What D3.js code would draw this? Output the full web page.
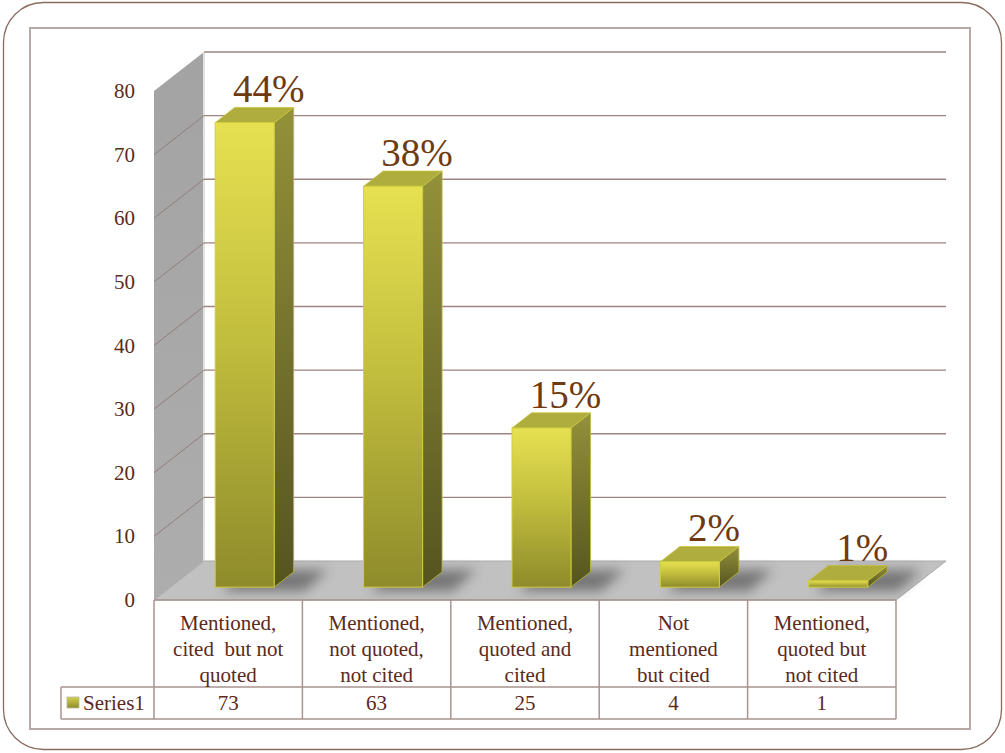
<!DOCTYPE html>
<html>
<head>
<meta charset="utf-8">
<script src="https://cdn.jsdelivr.net/npm/d3@7"></script>
</head>
<body style="margin:0">
<svg id="fig" width="1005" height="753"></svg>
<script>
// Citation categories (one table column each), with label lines
const categories = ["c1", "c2", "c3", "c4", "c5"];
const categoryLines = [
  ["Mentioned,", "cited\u00a0 but not", "quoted"],
  ["Mentioned,", "not quoted,", "not cited"],
  ["Mentioned,", "quoted and", "cited"],
  ["Not", "mentioned", "but cited"],
  ["Mentioned,", "quoted but", "not cited"]
];
const seriesName = "Series1";
const seriesValues = [73, 63, 25, 4, 1];
const yTicks = [0, 10, 20, 30, 40, 50, 60, 70, 80];

const total = d3.sum(seriesValues);
const pctLabels = seriesValues.map(v => Math.round(v / total * 100) + "%");

const FONT = "Liberation Serif";
const TEXT = "#5b2a1c";
const svg = d3.select("#fig");
const defs = svg.append("defs");

// Front plane geometry of the 3D box
const x = d3.scaleBand().domain(categories).range([154, 896]);
const y = d3.scaleLinear().domain([0, 80]).range([600, 91]);
const DX = 50, DY = -39;          // depth of the box (floor/wall)
const f0 = 0.33, fd = 0.39;       // bars: front-plane depth fraction and thickness
const barW = 59;

// Gradients
function vGrad(id, stops) {
  const g = defs.append("linearGradient").attr("id", id)
    .attr("x1", 0).attr("y1", 0).attr("x2", 0).attr("y2", 1);
  stops.forEach(([o, c]) => g.append("stop").attr("offset", o).attr("stop-color", c));
}
vGrad("gFront", [[0, "#e6e151"], [0.45, "#c3bf3e"], [1, "#8e8b2b"]]);
vGrad("gSide", [[0, "#939139"], [1, "#555420"]]);
vGrad("gWall", [[0, "#a3a3a3"], [1, "#adadad"]]);
vGrad("gLegend", [[0, "#d4d04a"], [1, "#8f8c2c"]]);

const blur = defs.append("filter").attr("id", "shadowBlur")
  .attr("x", "-50%").attr("y", "-50%").attr("width", "200%").attr("height", "200%");
blur.append("feGaussianBlur").attr("stdDeviation", 6);

// Outer rounded frame and inner chart area border
svg.append("rect").attr("x", 3.5).attr("y", 2.5).attr("width", 998).attr("height", 747)
  .attr("rx", 40).attr("ry", 40).attr("fill", "#fff")
  .attr("stroke", "#8a6b5e").attr("stroke-width", 1.3);
svg.append("rect").attr("x", 30).attr("y", 28).attr("width", 940).attr("height", 701)
  .attr("fill", "none").attr("stroke", "#b7a9a6").attr("stroke-width", 2);

const x0 = x.range()[0], x1 = x.range()[1];
const yTop = y(80), yBase = y(0);

// Left side wall
svg.append("polygon")
  .attr("points", [[x0, yTop], [x0 + DX, yTop + DY], [x0 + DX, yBase + DY], [x0, yBase]].join(" "))
  .attr("fill", "url(#gWall)");

// Back wall edge
svg.append("line").attr("x1", x0 + DX).attr("x2", x0 + DX)
  .attr("y1", yTop + DY).attr("y2", yBase + DY)
  .attr("stroke", "#e2e2e2").attr("stroke-width", 2);

// Gridlines: back wall and side wall
const grid = svg.append("g");
grid.selectAll("line.back").data(yTicks.filter(t => t > 0)).join("line")
  .attr("class", "back")
  .attr("x1", x0 + DX).attr("x2", x1 + DX)
  .attr("y1", d => y(d) + DY).attr("y2", d => y(d) + DY)
  .attr("stroke", "#9c8480").attr("stroke-width", 1.3);
grid.selectAll("line.side").data(yTicks.filter(t => t > 0 && t < 80)).join("line")
  .attr("class", "side")
  .attr("x1", x0).attr("x2", x0 + DX)
  .attr("y1", d => y(d)).attr("y2", d => y(d) + DY)
  .attr("stroke", "#8f7f7c").attr("stroke-width", 1);

// Floor
svg.append("polygon")
  .attr("points", [[x0, yBase], [x1, yBase], [x1 + DX, yBase + DY], [x0 + DX, yBase + DY]].join(" "))
  .attr("fill", "#c1c1c1").attr("stroke", "#a9a9a9").attr("stroke-width", 1);

// Y axis labels
svg.append("g").selectAll("text").data(yTicks).join("text")
  .attr("x", 135).attr("y", d => y(d) + 7)
  .attr("text-anchor", "end").attr("font-size", 21).attr("fill", TEXT)
  .attr("font-family", FONT)
  .text(d => d);

// Bars
const bars = svg.append("g");
const data = categories.map((c, i) => ({ c, v: seriesValues[i], pct: pctLabels[i] }));

data.forEach(d => {
  const cx = x(d.c) + x.bandwidth() / 2 + DX * f0;
  const bx = cx - barW / 2;
  const bottom = y(0) + DY * f0;
  const top = y(d.v) + DY * f0;
  const ddx = DX * fd, ddy = DY * fd;
  const g = bars.append("g");

  // soft shadow on the floor
  g.append("polygon")
    .attr("points", [[bx + 6, bottom + 4], [bx + barW + 30, bottom + 4],
                     [bx + barW + ddx + 34, bottom + ddy - 2], [bx + ddx + 10, bottom + ddy - 2]].join(" "))
    .attr("fill", "#3a3a3a").attr("opacity", 0.55).attr("filter", "url(#shadowBlur)");

  // right side
  g.append("polygon")
    .attr("points", [[bx + barW, top], [bx + barW + ddx, top + ddy],
                     [bx + barW + ddx, bottom + ddy], [bx + barW, bottom]].join(" "))
    .attr("fill", "url(#gSide)").attr("stroke", "#bdbb3a").attr("stroke-width", 0.8);
  // top
  g.append("polygon")
    .attr("points", [[bx, top], [bx + barW, top], [bx + barW + ddx, top + ddy], [bx + ddx, top + ddy]].join(" "))
    .attr("fill", "#afad3e").attr("stroke", "#c6c43d").attr("stroke-width", 0.8);
  // front
  g.append("rect")
    .attr("x", bx).attr("y", top).attr("width", barW).attr("height", bottom - top)
    .attr("fill", "url(#gFront)").attr("stroke", "#cfcc3e").attr("stroke-width", 1);

  // percentage label
  g.append("text")
    .attr("x", cx + 24).attr("y", top + ddy - 5)
    .attr("text-anchor", "middle").attr("font-size", 39).attr("fill", "#6e3a10")
    .attr("font-family", FONT)
    .text(d.pct);
});

// Data table under the floor
const tbl = svg.append("g");
const lineColor = "#a8938f";
const rowTop = yBase, rowMid = 687, rowBot = 719, legendX = 61;

tbl.append("line").attr("x1", x0).attr("x2", x1).attr("y1", rowTop).attr("y2", rowTop)
  .attr("stroke", lineColor).attr("stroke-width", 1.5);
[rowMid, rowBot].forEach(yy => tbl.append("line")
  .attr("x1", legendX).attr("x2", x1).attr("y1", yy).attr("y2", yy)
  .attr("stroke", lineColor).attr("stroke-width", 1.5));
tbl.append("line").attr("x1", legendX).attr("x2", legendX).attr("y1", rowMid).attr("y2", rowBot)
  .attr("stroke", lineColor).attr("stroke-width", 1.5);
const colEdges = categories.map(c => x(c)).concat([x1]);
tbl.selectAll("line.col").data(colEdges).join("line").attr("class", "col")
  .attr("x1", d => d).attr("x2", d => d).attr("y1", rowTop).attr("y2", rowBot)
  .attr("stroke", lineColor).attr("stroke-width", 1.5);

// Category labels: one text element per line
data.forEach((d, i) => {
  categoryLines[i].forEach((ln, j) => {
    tbl.append("text")
      .attr("x", x(d.c) + x.bandwidth() / 2).attr("y", 630 + j * 26)
      .attr("text-anchor", "middle").attr("font-size", 21).attr("fill", TEXT)
      .attr("font-family", FONT)
      .text(ln);
  });
  tbl.append("text")
    .attr("x", x(d.c) + x.bandwidth() / 2).attr("y", 710)
    .attr("text-anchor", "middle").attr("font-size", 21).attr("fill", TEXT)
    .attr("font-family", FONT)
    .text(d.v);
});

// Legend key in the table
tbl.append("rect").attr("x", 67).attr("y", 697).attr("width", 12).attr("height", 11)
  .attr("fill", "url(#gLegend)").attr("stroke", "#b9b7a0").attr("stroke-width", 0.8);
tbl.append("text").attr("x", 83).attr("y", 710)
  .attr("font-size", 21).attr("fill", TEXT)
  .attr("font-family", FONT).text(seriesName);
</script>
</body>
</html>
